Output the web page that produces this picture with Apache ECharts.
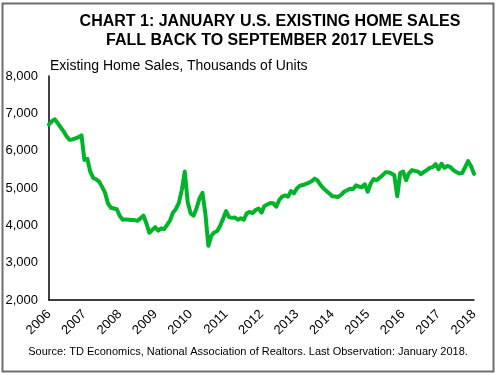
<!DOCTYPE html>
<html><head><meta charset="utf-8">
<script src="https://cdn.jsdelivr.net/npm/echarts@6/dist/echarts.min.js"></script>
<style>html,body{margin:0;padding:0;background:#fff}#c{width:500px;height:375px}</style>
</head><body><div id="c"></div>
<script>
// Monthly existing home sales, thousands of units (SAAR), Jan 2006 .. Jan 2018
const startYear = 2006;
const sales = [
 6700,6790,6840,6730,6620,6510,6380,6290,6300,6330,6360,6410, // 2006
 5750,5780,5430,5270,5230,5170,5030,4870,4580,4470,4450,4430, // 2007
 4250,4150,4160,4150,4140,4140,4120,4190,4260,4050,3800,3880, // 2008
 3950,3860,3920,3900,4010,4130,4340,4440,4600,4950,5440,4620, // 2009
 4320,4260,4460,4720,4870,4300,3450,3720,3810,3850,3990,4180, // 2010
 4380,4220,4200,4210,4150,4190,4150,4320,4360,4330,4410,4450, // 2011
 4340,4520,4560,4600,4590,4500,4680,4770,4800,4770,4920,4860, // 2012
 4990,5060,5080,5110,5140,5180,5250,5200,5080,4990,4920,4850, // 2013
 4780,4770,4760,4820,4900,4940,4980,4970,5070,5040,5020,5100, // 2014
 4900,5120,5240,5210,5270,5340,5420,5420,5390,5340,4780,5400, // 2015
 5440,5210,5400,5480,5460,5440,5370,5430,5480,5540,5560,5640, // 2016
 5500,5650,5540,5590,5560,5480,5430,5390,5400,5560,5720,5580, // 2017
 5380                                                        // 2018
];
const yTicks = [2000, 3000, 4000, 5000, 6000, 7000, 8000];
const titleLines = ['CHART 1: JANUARY U.S. EXISTING HOME SALES', 'FALL BACK TO SEPTEMBER 2017 LEVELS'];
const subtitle = 'Existing Home Sales, Thousands of Units';
const source = 'Source: TD Economics, National Association of Realtors. Last Observation: January 2018.';

const months = sales.map((_, i) => (startYear + Math.floor(i / 12)) + '-' + String(i % 12 + 1).padStart(2, '0'));
const FONT = 'Arial, "Liberation Sans", sans-serif';

const chart = echarts.init(document.getElementById('c'), null, {renderer: 'canvas'});
chart.setOption({
  backgroundColor: '#fff',
  animation: false,
  title: [
    {text: titleLines.join('\n'), left: 270, top: 12, textAlign: 'center', padding: 0,
     textStyle: {fontFamily: FONT, fontSize: 16, fontWeight: 'bold', color: '#000', lineHeight: 19}},
    {text: subtitle, left: 50, top: 59, padding: 0,
     textStyle: {fontFamily: FONT, fontSize: 14, fontWeight: 'normal', color: '#000'}},
    {text: source, left: 248, top: 346, textAlign: 'center', padding: 0,
     textStyle: {fontFamily: FONT, fontSize: 11, fontWeight: 'normal', color: '#000'}}
  ],
  graphic: [{type: 'rect', shape: {x: 2.5, y: 3.5, width: 491, height: 368},
    style: {fill: 'none', stroke: '#6e6e6e', lineWidth: 2}, silent: true}],
  grid: {left: 49, right: 26, top: 76, bottom: 75, containLabel: false},
  xAxis: {
    type: 'category', data: months, boundaryGap: false,
    axisLine: {lineStyle: {color: '#000', width: 1.5}},
    axisTick: {show: false},
    axisLabel: {interval: 11, rotate: 45, margin: 12, fontFamily: FONT, fontSize: 13, color: '#000',
      formatter: v => v.slice(0, 4)},
    splitLine: {show: false}
  },
  yAxis: {
    type: 'value', min: yTicks[0], max: yTicks[yTicks.length - 1], interval: 1000,
    axisLine: {show: true, lineStyle: {color: '#000', width: 1.5}},
    axisTick: {show: false},
    splitLine: {show: false},
    axisLabel: {margin: 11, fontFamily: FONT, fontSize: 13, color: '#000',
      formatter: v => v.toLocaleString('en-US')}
  },
  series: [{
    type: 'line', data: sales, showSymbol: false, symbol: 'none',
    lineStyle: {color: '#00b42a', width: 4, join: 'round', cap: 'round'}
  }]
});
</script></body></html>
